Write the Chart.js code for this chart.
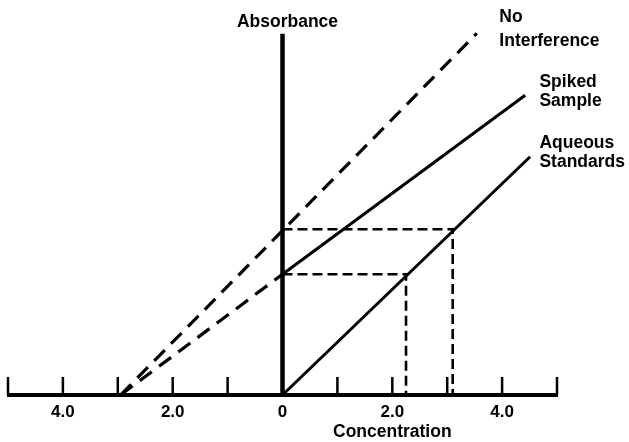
<!DOCTYPE html>
<html>
<head>
<meta charset="utf-8">
<script src="https://cdn.jsdelivr.net/npm/chart.js@4.4.1/dist/chart.umd.min.js"></script>
<style>
  html, body { margin: 0; padding: 0; background: #ffffff; }
  #wrap { width: 629px; height: 442px; position: relative; }
</style>
</head>
<body>
<div id="wrap"><canvas id="c"></canvas></div>
<script>
// ---- data (concentration units on x, absorbance on y) ----
const tickValues = [-5, -4, -3, -2, -1, 0, 1, 2, 3, 4, 5];
const tickLabels = ['', '4.0', '', '2.0', '', '0', '', '2.0', '', '4.0', ''];

const aqueousX = [0, 4.51];
const aqueousY = [0, 4.34];

const spikedX = [0, 4.42];
const spikedY = [2.2, 5.46];

const spikedExtrapX = [-2.95, 0];
const spikedExtrapY = [0, 2.2];

const noInterfX = [-2.95, 3.54];
const noInterfY = [0, 6.59];

const guideUpperX = [0, 3.1, 3.1];
const guideUpperY = [3.02, 3.02, 0];

const guideLowerX = [0, 2.25, 2.25];
const guideLowerY = [2.2, 2.2, 0];

const absorbanceAxisTop = 6.58;

const seriesLabels = [
  { lines: ['No', 'Interference'], x: 3.95 },
  { lines: ['Spiked', 'Sample'], x: 4.68 },
  { lines: ['Aqueous', 'Standards'], x: 4.68 }
];

// ---- helpers ----
function pts(xs, ys) { return xs.map((x, i) => ({ x: x, y: ys[i] })); }

const FAMILY = '"Liberation Sans", Arial, Helvetica, sans-serif';
const FONT = 'bold 17.5px ' + FAMILY;

const axesPlugin = {
  id: 'diagramAxes',
  afterDatasetsDraw(chart) {
    const ctx = chart.ctx;
    const xs = chart.scales.x, ys = chart.scales.y;
    const y0 = ys.getPixelForValue(0);
    const x0 = xs.getPixelForValue(0);
    ctx.save();
    ctx.strokeStyle = '#000';
    ctx.lineCap = 'butt';
    // horizontal axis
    ctx.lineWidth = 4;
    ctx.beginPath();
    ctx.moveTo(xs.getPixelForValue(tickValues[0]) - 1, y0);
    ctx.lineTo(xs.getPixelForValue(tickValues[tickValues.length - 1]) + 1, y0);
    ctx.stroke();
    // tick marks (pointing up)
    ctx.lineWidth = 2.5;
    tickValues.forEach(v => {
      if (v === 0) return;
      const px = xs.getPixelForValue(v);
      ctx.beginPath();
      ctx.moveTo(px, y0);
      ctx.lineTo(px, y0 - 18);
      ctx.stroke();
    });
    // vertical absorbance axis
    ctx.lineWidth = 4.5;
    ctx.beginPath();
    ctx.moveTo(x0, y0 + 1);
    ctx.lineTo(x0, ys.getPixelForValue(absorbanceAxisTop));
    ctx.stroke();

    // text
    ctx.fillStyle = '#000';
    ctx.font = FONT;
    ctx.textBaseline = 'alphabetic';
    ctx.textAlign = 'center';
    ctx.fillText('Absorbance', x0 + 5, 27);
    ctx.fillText('Concentration', xs.getPixelForValue(2), 437);

    ctx.textAlign = 'left';
    const baselines = [[21.7, 46], [86.7, 105.7], [148.3, 166.7]];
    seriesLabels.forEach((lab, i) => {
      const px = xs.getPixelForValue(lab.x);
      lab.lines.forEach((t, j) => ctx.fillText(t, px, baselines[i][j]));
    });
    ctx.restore();
  }
};

const base = { borderColor: '#000', pointRadius: 0, showLine: true, fill: false, clip: false, tension: 0 };

new Chart(document.getElementById('c'), {
  type: 'scatter',
  data: {
    datasets: [
      Object.assign({ label: 'Aqueous Standards', data: pts(aqueousX, aqueousY), borderWidth: 3 }, base),
      Object.assign({ label: 'Spiked Sample', data: pts(spikedX, spikedY), borderWidth: 3 }, base),
      Object.assign({ label: 'Spiked Sample (extrapolated)', data: pts(spikedExtrapX, spikedExtrapY), borderWidth: 3.2, borderDash: [15, 9] }, base),
      Object.assign({ label: 'No Interference', data: pts(noInterfX, noInterfY), borderWidth: 3.2, borderDash: [15, 9] }, base),
      Object.assign({ label: 'Upper guide', data: pts(guideUpperX, guideUpperY), borderDash: [10, 5], borderWidth: 2.6 }, base),
      Object.assign({ label: 'Lower guide', data: pts(guideLowerX, guideLowerY), borderDash: [10, 5], borderWidth: 2.6 }, base)
    ]
  },
  options: {
    responsive: true,
    maintainAspectRatio: false,
    animation: false,
    layout: { padding: { left: 8, right: 72, top: 30, bottom: 0 } },
    plugins: { legend: { display: false }, tooltip: { enabled: false } },
    scales: {
      x: {
        type: 'linear',
        min: -5,
        max: 5,
        afterBuildTicks: (scale) => { scale.ticks = tickValues.map(v => ({ value: v })); },
        afterFit: (scale) => { scale.height = 47; },
        grid: { display: false, drawTicks: false },
        border: { display: false },
        ticks: {
          autoSkip: false,
          maxRotation: 0,
          padding: 7,
          color: '#000',
          font: { family: FAMILY, size: 17, weight: 'bold' },
          callback: (value) => { const i = tickValues.indexOf(value); return i >= 0 ? tickLabels[i] : ''; }
        }
      },
      y: {
        type: 'linear',
        display: false,
        min: 0,
        max: 6.65
      }
    }
  },
  plugins: [axesPlugin]
});
</script>
</body>
</html>
